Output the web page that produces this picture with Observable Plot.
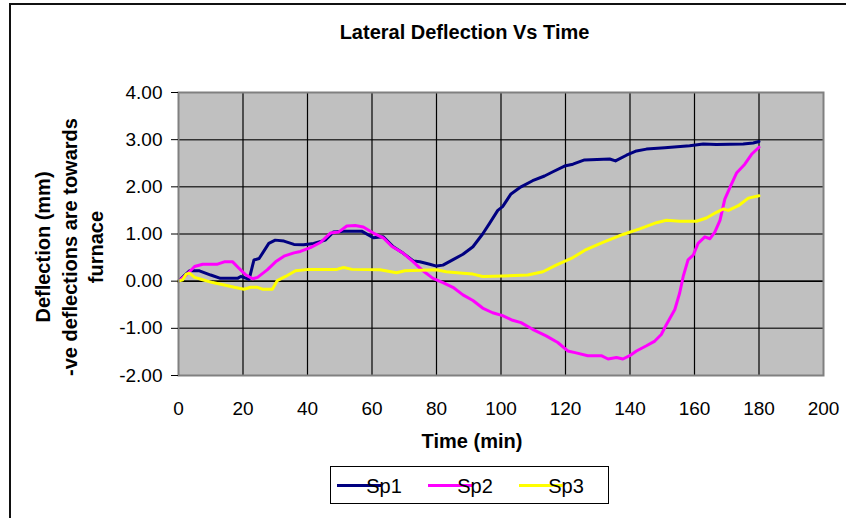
<!DOCTYPE html>
<html><head><meta charset="utf-8">
<script src="https://cdn.jsdelivr.net/npm/d3@7"></script>
<script src="https://cdn.jsdelivr.net/npm/@observablehq/plot@0.6"></script>
<style>
html,body{margin:0;padding:0;background:#fff;overflow:hidden;}
#wrap{position:relative;width:846px;height:518px;overflow:hidden;background:#fff;}
#border{position:absolute;left:9px;top:3px;width:900px;height:600px;border:2px solid #111;box-sizing:border-box;}
#wrap svg{position:absolute;left:0;top:0;}
</style></head><body><div id="wrap"><div id="border"></div></div>
<script>
const title = "Lateral Deflection Vs Time";
const xLabel = "Time (min)";
const yLabelLines = ["Deflection (mm)", "-ve deflections are towards", "furnace"];
const series = ["Sp1", "Sp2", "Sp3"];
const colors = ["#000080", "#FF00FF", "#FFFF00"];
const xTicks = [0, 20, 40, 60, 80, 100, 120, 140, 160, 180, 200];
const yTicks = [-2, -1, 0, 1, 2, 3, 4];

const sp1Time = [0,3.4,6.5,10,13,18.3,19.3,21.9,23.4,25,28,30,32.7,35.8,38.8,41.9,45.5,48,51.2,56.8,60.4,63.5,66.6,69.7,72.8,74.8,77.9,80,82,85,88.2,91.3,94.3,96.4,99,100.5,103.1,106.2,109.8,113.5,116.1,119.7,122.3,125.9,133.7,135.5,138.9,142,145.1,150.8,158.5,162.7,166.8,175.1,178.2,180];
const sp1Value = [0,0.22,0.22,0.13,0.06,0.06,0.1,0.04,0.45,0.48,0.8,0.87,0.85,0.78,0.77,0.8,0.87,1.04,1.06,1.06,0.92,0.94,0.73,0.59,0.43,0.41,0.36,0.32,0.34,0.45,0.57,0.73,1.0,1.22,1.5,1.58,1.85,2.0,2.13,2.23,2.32,2.44,2.48,2.57,2.59,2.55,2.67,2.76,2.8,2.83,2.87,2.91,2.9,2.91,2.93,2.96];

const sp2Time = [0,2.4,5,7.5,12.1,14.2,16.8,18.8,20.9,23,24.5,27.5,30.1,32.7,35.8,37.8,40.9,44,47.1,49.6,52.2,54.8,57.3,60.4,63.5,66.1,69.7,72.8,75.8,78.9,82,85.1,88.2,91.3,94.3,97.4,100.5,103.6,106.2,109.8,114,117.6,120.7,123.3,126.9,131.1,133.2,135.8,137.8,139.9,142,145.1,147.7,149.7,151.3,153.9,155.4,156.5,158,159.6,161.1,163.2,164.8,166.3,167.9,169.4,171,173.1,175.6,177.7,180];
const sp2Value = [0,0.13,0.31,0.36,0.36,0.41,0.41,0.27,0.13,0.05,0.08,0.24,0.41,0.53,0.6,0.63,0.71,0.82,1.02,1.04,1.17,1.18,1.15,1.02,0.92,0.74,0.59,0.41,0.22,0.06,-0.03,-0.13,-0.29,-0.41,-0.57,-0.67,-0.73,-0.83,-0.88,-1.02,-1.16,-1.3,-1.48,-1.52,-1.58,-1.58,-1.65,-1.62,-1.65,-1.58,-1.48,-1.37,-1.27,-1.13,-0.92,-0.6,-0.25,0.1,0.45,0.55,0.8,0.94,0.9,1.04,1.29,1.74,1.99,2.3,2.48,2.69,2.84];

const sp3Time = [0,1.3,2.4,3.4,5,7.5,10.6,14.2,17.3,20.3,22.4,24.5,26,29.1,30.6,33.2,36.3,40.4,49.1,51.2,53.8,62.5,67.6,70.2,80,83,88.2,91.3,94.3,100.5,108.3,113,117.1,122.3,126.4,131.6,137.8,143,148.2,151.3,155.4,160.6,163.7,166.8,168.9,170.5,173.6,176.7,180];
const sp3Value = [0,0.03,0.15,0.17,0.08,0.03,-0.03,-0.08,-0.13,-0.17,-0.13,-0.13,-0.17,-0.17,0.01,0.1,0.22,0.25,0.25,0.29,0.25,0.24,0.18,0.22,0.24,0.2,0.17,0.15,0.1,0.11,0.13,0.2,0.34,0.5,0.67,0.82,0.99,1.11,1.24,1.29,1.27,1.27,1.34,1.46,1.53,1.5,1.6,1.76,1.81];

const times = [sp1Time, sp2Time, sp3Time];
const values = [sp1Value, sp2Value, sp3Value];
const data = [];
series.forEach((s, i) => times[i].forEach((t, j) => data.push({s, t, v: values[i][j]})));

const font = "Liberation Sans, Arial, Helvetica, sans-serif";

const plot = Plot.plot({
  width: 846, height: 518,
  marginLeft: 178, marginTop: 92, marginRight: 23, marginBottom: 143,
  style: {fontFamily: font, fontSize: "19px", background: "transparent", color: "#000"},
  x: {domain: [0, 200], ticks: xTicks, label: null},
  y: {domain: [-2, 4], ticks: yTicks, label: null},
  color: {domain: series, range: colors},
  marks: [
    Plot.frame({fill: "#c0c0c0"}),
    Plot.ruleY(yTicks.slice(1, -1), {stroke: "#333", strokeWidth: 1.5}),
    Plot.ruleX(xTicks.slice(1, -1), {stroke: "#000", strokeWidth: 1.2}),
    Plot.ruleY([0], {stroke: "#000", strokeWidth: 1.5}),
    Plot.line(data, {x: "t", y: "v", z: "s", stroke: "s", strokeWidth: 3, curve: "linear"}),
    Plot.frame({stroke: "#808080", strokeWidth: 2}),
    Plot.axisY({ticks: yTicks, tickFormat: d => d.toFixed(2), tickSize: 7, tickPadding: 9, label: null, fontSize: 19}),
    Plot.axisX({ticks: xTicks, tickSize: 0, tickPadding: 26, label: null, fontSize: 19})
  ]
});
document.getElementById("wrap").appendChild(plot);

const svg = d3.select(plot);
svg.append("text").attr("x", 464.5).attr("y", 39).attr("text-anchor", "middle")
  .attr("font-family", font).attr("font-size", 20).attr("font-weight", "bold").text(title);
svg.append("text").attr("x", 472).attr("y", 448).attr("text-anchor", "middle")
  .attr("font-family", font).attr("font-size", 20).attr("font-weight", "bold").text(xLabel);
const yBase = [50, 76.5, 102.5];
yLabelLines.forEach((line, i) => {
  svg.append("text").attr("transform", `translate(${yBase[i]},247) rotate(-90)`)
    .attr("text-anchor", "middle").attr("font-family", font).attr("font-size", 20)
    .attr("font-weight", "bold").text(line);
});

// legend
const lg = svg.append("g");
lg.append("rect").attr("x", 330.5).attr("y", 466.5).attr("width", 278).attr("height", 37)
  .attr("fill", "#fff").attr("stroke", "#000").attr("stroke-width", 1);
series.forEach((s, i) => {
  const x0 = 337 + i * 91;
  lg.append("line").attr("x1", x0).attr("x2", x0 + 44).attr("y1", 485.5).attr("y2", 485.5)
    .attr("stroke", colors[i]).attr("stroke-width", 3);
  lg.append("text").attr("x", x0 + 47).attr("y", 492.5).attr("font-family", font)
    .attr("font-size", 20).text(s);
});
</script>
</body></html>
